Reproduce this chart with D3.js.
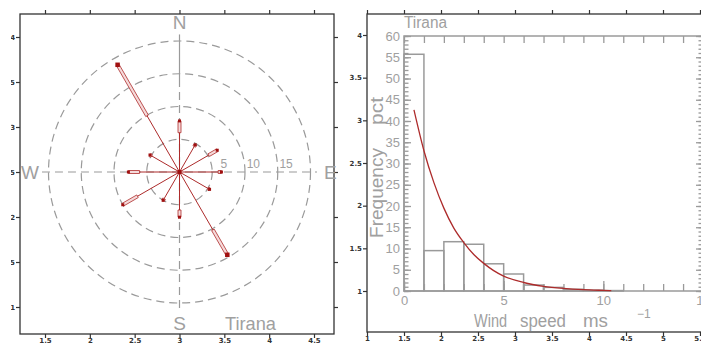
<!DOCTYPE html>
<html>
<head>
<meta charset="utf-8">
<script src="https://cdn.jsdelivr.net/npm/d3@7"></script>
<style>
  body { margin: 0; background: #fff; }
  text { font-family: "Liberation Sans", Arial, sans-serif; }
  .frame-ticks text { font-size: 7px; font-weight: bold; fill: #333; font-family: "DejaVu Sans", sans-serif; }
  .frame-ticks line { stroke: #333; stroke-width: 1.2; }
  .hist-axis text { font-size: 13px; fill: #a0a0a0; }
  .hist-axis line { stroke: #9a9a9a; stroke-width: 1.3; }
</style>
</head>
<body>
<div id="container"></div>
<script>
/**
 * CONSTANTS AND GLOBALS
 * */
const width = 701,
  height = 343;

const gray = "#9a9a9a",
  textGray = "#a0a0a0",
  red = "#ad2b2b";

/**
 * DATA
 * */
// wind rose: direction (deg from N), frequency (pct) and inner end of the bar
const directions = [0, 30, 60, 90, 120, 150, 180, 210, 240, 270, 300, 330];
const dirFreq = [7.8, 4.8, 6.65, 6.4, 5.3, 14.6, 6.9, 5.0, 10.0, 7.8, 5.2, 18.9];
const dirInner = [6.0, 4.5, 5.15, 5.9, 5.0, 10.2, 5.8, 4.7, 7.4, 6.1, 4.9, 9.9];
const ringValues = [5, 10, 15, 20];
const ringLabels = [5, 10, 15];
const compassNames = ["N", "E", "S", "W"];

// histogram of wind speed
const binStart = [0, 1, 2, 3, 4, 5, 6, 7, 8, 9, 10];
const binFreq = [55.7, 9.5, 11.6, 11.0, 6.4, 4.0, 1.4, 0.85, 0.4, 0.2, 0.1];
// fitted curve
const fitSpeed = [0.5, 1, 1.5, 2, 2.5, 3, 3.5, 4, 4.5, 5, 6, 7, 8, 9, 10, 10.4];
const fitFreq = [42.6, 33, 25.5, 19.5, 14.8, 11.4, 8.6, 6.5, 4.8, 3.5, 2.0, 1.1, 0.6, 0.3, 0.15, 0.1];

const histYTicks = [0, 5, 10, 15, 20, 25, 30, 35, 40, 45, 50, 55, 60];
const histXTicks = [0, 5, 10, 15];

// outer frame ticks
const leftXTicks = [1.5, 2, 2.5, 3, 3.5, 4, 4.5];
const leftYTicks = [1, 1.5, 2, 2.5, 3, 3.5, 4];
const rightXTicks = [1, 1.5, 2, 2.5, 3, 3.5, 4, 4.5, 5, 5.5];
const rightYTicks = [1, 1.5, 2, 2.5, 3, 3.5, 4];

const fmt = d => String(d);

/**
 * SVG
 * */
const svg = d3
  .select("#container")
  .append("svg")
  .attr("width", width)
  .attr("height", height);

svg.append("defs")
  .append("clipPath")
  .attr("id", "leftclip")
  .append("rect")
  .attr("x", 11).attr("y", 0).attr("width", 340).attr("height", height);

/**
 * LEFT PANEL: frame
 * */
const L = { x0: 20, x1: 334, y0: 14, y1: 334 };
const xL = d3.scaleLinear().domain([1.5, 4.5]).range([45, 314]);
const yL = d3.scaleLinear().domain([1, 4]).range([307, 37]);

const left = svg.append("g");

left.append("g").attr("class", "frame-ticks")
  .attr("transform", `translate(0,${L.y0})`)
  .call(d3.axisTop(xL).tickValues(leftXTicks).tickSize(4).tickSizeOuter(0).tickFormat(""))
  .call(g => g.select(".domain").remove());
left.append("g").attr("class", "frame-ticks")
  .attr("transform", `translate(0,${L.y1})`)
  .call(d3.axisBottom(xL).tickValues(leftXTicks).tickSize(4).tickPadding(0).tickSizeOuter(0).tickFormat(fmt))
  .call(g => g.select(".domain").remove());
// the left labels are cut at the picture edge, as in the original
left.append("g")
  .attr("clip-path", "url(#leftclip)")
  .append("g").attr("class", "frame-ticks")
  .attr("transform", `translate(${L.x0},0)`)
  .call(d3.axisLeft(yL).tickValues(leftYTicks).tickSize(4).tickPadding(1).tickSizeOuter(0).tickFormat(fmt))
  .call(g => g.select(".domain").remove());
left.append("g").attr("class", "frame-ticks")
  .attr("transform", `translate(${L.x1},0)`)
  .call(d3.axisRight(yL).tickValues(leftYTicks).tickSize(4).tickSizeOuter(0).tickFormat(""))
  .call(g => g.select(".domain").remove());

left.append("rect")
  .attr("x", L.x0).attr("y", L.y0)
  .attr("width", L.x1 - L.x0).attr("height", L.y1 - L.y0)
  .attr("fill", "none").attr("stroke", "#333").attr("stroke-width", 1.3);

/**
 * LEFT PANEL: wind rose
 * */
const cx = xL(3),
  cy = yL(2.5);
const r = d3.scaleLinear().domain([0, 20]).range([0, 131]);
const polar = (deg, v) => {
  const a = (deg * Math.PI) / 180;
  return [cx + r(v) * Math.sin(a), cy - r(v) * Math.cos(a)];
};

const rose = left.append("g");

rose.selectAll("circle.ring")
  .data(ringValues)
  .join("circle")
  .attr("class", "ring")
  .attr("cx", cx).attr("cy", cy)
  .attr("r", d => r(d))
  .attr("fill", "none")
  .attr("stroke", gray)
  .attr("stroke-width", 1.2)
  .attr("stroke-dasharray", "8,5");

// cross lines
rose.append("line")
  .attr("x1", polar(270, 21)[0]).attr("x2", polar(90, 21)[0])
  .attr("y1", cy).attr("y2", cy)
  .attr("stroke", gray).attr("stroke-width", 1.2).attr("stroke-dasharray", "8,5");
rose.append("line")
  .attr("x1", cx).attr("x2", cx)
  .attr("y1", polar(0, 14.2)[1]).attr("y2", polar(180, 21)[1])
  .attr("stroke", gray).attr("stroke-width", 1.2).attr("stroke-dasharray", "8,5");
rose.append("line")
  .attr("x1", cx).attr("x2", cx)
  .attr("y1", polar(0, 21)[1]).attr("y2", polar(0, 14.2)[1])
  .attr("stroke", gray).attr("stroke-width", 1.2);

rose.selectAll("text.ringlab")
  .data(ringLabels)
  .join("text")
  .attr("class", "ringlab")
  .attr("x", d => cx + r(d) + 15)
  .attr("y", cy - 4)
  .attr("text-anchor", "end")
  .attr("font-size", 12)
  .attr("fill", textGray)
  .text(d => d);

// compass letters
const compassPos = {
  N: { x: cx, y: 29, anchor: "middle" },
  S: { x: cx, y: 330, anchor: "middle" },
  W: { x: 21, y: 179, anchor: "start" },
  E: { x: 324, y: 179, anchor: "start" },
};
rose.selectAll("text.compass")
  .data(compassNames)
  .join("text")
  .attr("class", "compass")
  .attr("x", d => compassPos[d].x)
  .attr("y", d => compassPos[d].y)
  .attr("text-anchor", d => compassPos[d].anchor)
  .attr("font-size", 19)
  .attr("fill", textGray)
  .text(d => d);

rose.append("text")
  .attr("x", 225).attr("y", 330)
  .attr("font-size", 19)
  .attr("fill", textGray)
  .attr("textLength", 51)
  .attr("lengthAdjust", "spacingAndGlyphs")
  .text("Tirana");

const spokes = directions.map((d, i) => ({ dir: d, freq: dirFreq[i], inner: dirInner[i] }));

rose.selectAll("line.spoke")
  .data(spokes)
  .join("line")
  .attr("class", "spoke")
  .attr("x1", cx).attr("y1", cy)
  .attr("x2", d => polar(d.dir, d.freq)[0])
  .attr("y2", d => polar(d.dir, d.freq)[1])
  .attr("stroke", red)
  .attr("stroke-width", 1);

// narrow bar between inner and outer value
rose.selectAll("polygon.bar")
  .data(spokes)
  .join("polygon")
  .attr("class", "bar")
  .attr("points", d => {
    const a = (d.dir * Math.PI) / 180,
      w = 1.5,
      px = Math.cos(a) * w,
      py = Math.sin(a) * w;
    const [x0, y0] = polar(d.dir, d.inner);
    const [x1, y1] = polar(d.dir, d.freq);
    return [[x0 + px, y0 + py], [x1 + px, y1 + py], [x1 - px, y1 - py], [x0 - px, y0 - py]]
      .map(p => p.join(",")).join(" ");
  })
  .attr("fill", "#f5dada")
  .attr("stroke", red)
  .attr("stroke-width", 0.8);

rose.selectAll("rect.tip")
  .data(spokes)
  .join("rect")
  .attr("class", "tip")
  .attr("width", d => (d.freq > 12 ? 4.5 : 3))
  .attr("height", d => (d.freq > 12 ? 4.5 : 3))
  .attr("x", d => polar(d.dir, d.freq)[0] - (d.freq > 12 ? 2.25 : 1.5))
  .attr("y", d => polar(d.dir, d.freq)[1] - (d.freq > 12 ? 2.25 : 1.5))
  .attr("fill", "#a01010");

rose.append("rect")
  .attr("x", cx - 2).attr("y", cy - 2)
  .attr("width", 4).attr("height", 4)
  .attr("fill", "#a01010");

/**
 * RIGHT PANEL: frame
 * */
const R = { x0: 367, x1: 740, y0: 14, y1: 332 };
const xR = d3.scaleLinear().domain([1, 5]).range([367, 663]);
const yR = d3.scaleLinear().domain([1, 4]).range([291, 35]);

const right = svg.append("g");

right.append("g").attr("class", "frame-ticks")
  .attr("transform", `translate(0,${R.y0})`)
  .call(d3.axisTop(xR).tickValues(rightXTicks).tickSize(4).tickSizeOuter(0).tickFormat(""))
  .call(g => g.select(".domain").remove());
right.append("g").attr("class", "frame-ticks")
  .attr("transform", `translate(0,${R.y1})`)
  .call(d3.axisBottom(xR).tickValues(rightXTicks).tickSize(4).tickPadding(0).tickSizeOuter(0).tickFormat(fmt))
  .call(g => g.select(".domain").remove());
right.append("g").attr("class", "frame-ticks")
  .attr("transform", `translate(${R.x0},0)`)
  .call(d3.axisLeft(yR).tickValues(rightYTicks).tickSize(4).tickPadding(1).tickSizeOuter(0).tickFormat(fmt))
  .call(g => g.select(".domain").remove());

right.append("rect")
  .attr("x", R.x0).attr("y", R.y0)
  .attr("width", R.x1 - R.x0).attr("height", R.y1 - R.y0)
  .attr("fill", "none").attr("stroke", "#333").attr("stroke-width", 1.3);

/**
 * RIGHT PANEL: histogram
 * */
const xH = d3.scaleLinear().domain([0, 15]).range([404, 703]);
const yH = d3.scaleLinear().domain([0, 60]).range([291, 36]);
const minorX = d3.range(0, 16, 1);
const minorY = d3.range(0, 61, 1);

const hist = right.append("g");

// minor ticks
hist.append("g").attr("class", "hist-axis")
  .attr("transform", `translate(${xH(0)},0)`)
  .call(d3.axisLeft(yH).tickValues(minorY).tickSize(-4.5).tickFormat(""))
  .call(g => g.select(".domain").remove());
hist.append("g").attr("class", "hist-axis")
  .attr("transform", `translate(${xH(15)},0)`)
  .call(d3.axisRight(yH).tickValues(minorY).tickSize(-4.5).tickFormat(""))
  .call(g => g.select(".domain").remove());
hist.append("g").attr("class", "hist-axis")
  .attr("transform", `translate(0,${yH(60)})`)
  .call(d3.axisTop(xH).tickValues(minorX).tickSize(-7).tickFormat(""))
  .call(g => g.select(".domain").remove());
hist.append("g").attr("class", "hist-axis")
  .attr("transform", `translate(0,${yH(0)})`)
  .call(d3.axisBottom(xH).tickValues(minorX).tickSize(-7).tickFormat(""))
  .call(g => g.select(".domain").remove());

// major ticks with labels
hist.append("g").attr("class", "hist-axis")
  .attr("transform", `translate(${xH(0)},0)`)
  .call(d3.axisLeft(yH).tickValues(histYTicks).tickSize(-7).tickPadding(4).tickFormat(fmt))
  .call(g => g.select(".domain").remove());
hist.append("g").attr("class", "hist-axis")
  .attr("transform", `translate(${xH(15)},0)`)
  .call(d3.axisRight(yH).tickValues(histYTicks).tickSize(-7).tickFormat(""))
  .call(g => g.select(".domain").remove());
hist.append("g").attr("class", "hist-axis")
  .attr("transform", `translate(0,${yH(0)})`)
  .call(d3.axisBottom(xH).tickValues(histXTicks).tickSize(-10).tickPadding(5).tickFormat(fmt))
  .call(g => g.select(".domain").remove());

hist.append("rect")
  .attr("x", xH(0)).attr("y", yH(60))
  .attr("width", xH(15) - xH(0)).attr("height", yH(0) - yH(60))
  .attr("fill", "none").attr("stroke", gray).attr("stroke-width", 1.5);

const bins = binStart.map((d, i) => ({ x0: d, x1: d + 1, f: binFreq[i] }));
hist.selectAll("rect.bin")
  .data(bins)
  .join("rect")
  .attr("class", "bin")
  .attr("x", d => xH(d.x0))
  .attr("y", d => yH(d.f))
  .attr("width", d => xH(d.x1) - xH(d.x0))
  .attr("height", d => yH(0) - yH(d.f))
  .attr("fill", "none")
  .attr("stroke", gray)
  .attr("stroke-width", 1.5);

const fit = fitSpeed.map((d, i) => [d, fitFreq[i]]);
hist.append("path")
  .datum(fit)
  .attr("d", d3.line().x(d => xH(d[0])).y(d => yH(d[1])).curve(d3.curveMonotoneX))
  .attr("fill", "none")
  .attr("stroke", red)
  .attr("stroke-width", 1.3);

// titles
hist.append("text")
  .attr("x", 404).attr("y", 28)
  .attr("font-size", 16).attr("fill", textGray)
  .attr("textLength", 43).attr("lengthAdjust", "spacingAndGlyphs")
  .text("Tirana");

const xTitle = [
  { t: "Wind", x: 474, w: 33 },
  { t: "speed", x: 520, w: 46 },
  { t: "ms", x: 583, w: 25 },
];
hist.selectAll("text.xtitle")
  .data(xTitle)
  .join("text")
  .attr("class", "xtitle")
  .attr("x", d => d.x).attr("y", 327)
  .attr("font-size", 18).attr("fill", textGray)
  .attr("textLength", d => d.w).attr("lengthAdjust", "spacingAndGlyphs")
  .text(d => d.t);
hist.append("text")
  .attr("x", 637).attr("y", 318)
  .attr("font-size", 12).attr("fill", textGray)
  .text("\u22121");

const ytitle = hist.append("g").attr("transform", "translate(383,238) rotate(-90)");
ytitle.append("text")
  .attr("x", 0).attr("y", 0)
  .attr("font-size", 19).attr("fill", textGray)
  .attr("textLength", 90).attr("lengthAdjust", "spacingAndGlyphs")
  .text("Frequency");
ytitle.append("text")
  .attr("x", 113).attr("y", 0)
  .attr("font-size", 19).attr("fill", textGray)
  .attr("textLength", 28).attr("lengthAdjust", "spacingAndGlyphs")
  .text("pct");
</script>
</body>
</html>
